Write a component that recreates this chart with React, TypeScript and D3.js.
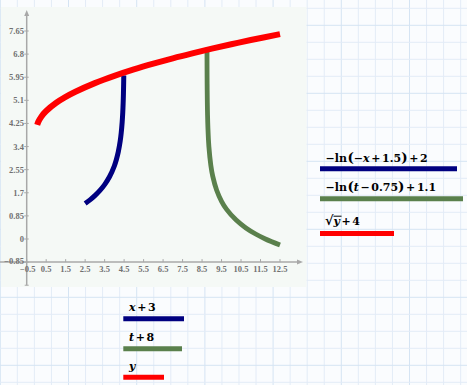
import React from "react";
import * as d3 from "d3";

const xTicks = [-0.5, 0.5, 1.5, 2.5, 3.5, 4.5, 5.5, 6.5, 7.5, 8.5, 9.5, 10.5, 11.5, 12.5];
const xTickLabels = ["\u22120.5", "0.5", "1.5", "2.5", "3.5", "4.5", "5.5", "6.5", "7.5", "8.5", "9.5", "10.5", "11.5", "12.5"];
const yTicks = [-0.85, 0, 0.85, 1.7, 2.55, 3.4, 4.25, 5.1, 5.95, 6.8, 7.65];
const yTickLabels = ["\u22120.85", "0", "0.85", "1.7", "2.55", "3.4", "4.25", "5.1", "5.95", "6.8", "7.65"];

// x+3  vs  -ln(-x+1.5)+2
const blueX = [2.5, 2.75, 3, 3.25, 3.5, 3.75, 4.0, 4.1, 4.2, 4.3, 4.35, 4.4, 4.43, 4.45, 4.465, 4.475, 4.482];
const blueY = [1.307, 1.44, 1.595, 1.777, 2.0, 2.288, 2.693, 2.916, 3.204, 3.609, 3.897, 4.303, 4.659, 4.996, 5.352, 5.689, 6.017];
// t+8  vs  -ln(t-0.75)+1.1
const greenX = [8.753, 8.755, 8.76, 8.77, 8.78, 8.8, 8.85, 8.95, 9.05, 9.25, 9.5, 9.75, 10.25, 10.75, 11.25, 11.75, 12.5];
const greenY = [6.943, 6.398, 5.705, 5.012, 4.607, 4.096, 3.403, 2.709, 2.304, 1.793, 1.388, 1.1, 0.695, 0.407, 0.184, 0.001, -0.222];
// y  vs  sqrt(y)+4
const redX = [0.04, 0.1, 0.25, 0.5, 1, 1.5, 2, 3, 4, 5, 6, 7, 8, 9, 10, 11, 12.5];
const redY = [4.2, 4.316, 4.5, 4.707, 5, 5.225, 5.414, 5.732, 6, 6.236, 6.449, 6.646, 6.828, 7, 7.162, 7.317, 7.536];

const xAxisExtent = [-1.87, 13.68];
const yAxisExtent = [-1.7, 8.42];

const W = 467;
const H = 385;
const BLUE = "#000080";
const GREEN = "#5a804c";
const RED = "#ff0000";
const AXIS = "#a8a8a8";
const LABEL = "#707070";
const MATH = "DejaVu Serif, serif";
const S = 1.6; // operator spacing

export default function App() {
  const x = d3.scaleLinear().domain([-0.5, 12.5]).range([26.7, 280]);
  const y = d3.scaleLinear().domain([0, 7.65]).range([239, 31]);

  const line = d3
    .line<[number, number]>()
    .x((d) => x(d[0]))
    .y((d) => y(d[1]))
    .curve(d3.curveCatmullRom.alpha(0.5));

  const zip = (a: number[], b: number[]) => a.map((v, i) => [v, b[i]] as [number, number]);

  const gridV: number[] = [];
  for (let k = 0; k * 17.05 < W + 1; k++) gridV.push(k);
  const gridH: number[] = [];
  for (let k = 0; -8.7 + k * 17 < H + 1; k++) gridH.push(k);

  const xAxisY = y(-0.85);
  const yAxisX = x(-0.5);
  const xAxisEnd = x(xAxisExtent[1]);
  const yAxisTop = y(yAxisExtent[1]);

  return (
    <svg
      width={W}
      height={H}
      style={{ position: "absolute", left: 0, top: 0, display: "block" }}
    >
      <rect x={0} y={0} width={W} height={H} fill="#fafcfe" />
      {gridV.map((k) => (
        <line
          key={"v" + k}
          x1={0.3 + k * 17.05}
          x2={0.3 + k * 17.05}
          y1={0}
          y2={H}
          stroke={k % 4 === 0 ? "#d5e4f3" : "#e3ecf7"}
          strokeWidth={1}
        />
      ))}
      {gridH.map((k) => (
        <line
          key={"h" + k}
          x1={0}
          x2={W}
          y1={-8.7 + k * 17}
          y2={-8.7 + k * 17}
          stroke={k % 4 === 2 ? "#d5e4f3" : "#e3ecf7"}
          strokeWidth={1}
        />
      ))}
      {/* plot region */}
      <rect x={1} y={7} width={305.5} height={280} fill="#f5f9f6" />

      {/* axes */}
      <line x1={x(xAxisExtent[0])} x2={xAxisEnd - 4} y1={xAxisY} y2={xAxisY} stroke={AXIS} strokeWidth={1.5} />
      <path d={`M${xAxisEnd},${xAxisY} L${xAxisEnd - 6},${xAxisY - 2.5} L${xAxisEnd - 6},${xAxisY + 2.5} Z`} fill={AXIS} />
      <line x1={yAxisX} x2={yAxisX} y1={y(yAxisExtent[0])} y2={yAxisTop + 4} stroke={AXIS} strokeWidth={1.5} />
      <path d={`M${yAxisX},${yAxisTop} L${yAxisX - 2.5},${yAxisTop + 6} L${yAxisX + 2.5},${yAxisTop + 6} Z`} fill={AXIS} />
      <line x1={yAxisX - 2} x2={yAxisX + 2} y1={y(yAxisExtent[0])} y2={y(yAxisExtent[0])} stroke={AXIS} strokeWidth={1} />

      {xTicks.map((t, i) => (
        <g key={"xt" + i}>
          <line x1={x(t)} x2={x(t)} y1={xAxisY - 3} y2={xAxisY} stroke={AXIS} strokeWidth={1} />
          <text
            x={x(t) + (i === 0 ? 1 : 0)}
            y={xAxisY + 9.5}
            textAnchor="middle"
            fontFamily="Liberation Serif, serif"
            fontWeight="bold"
            fontSize={8.5}
            fill={LABEL}
          >
            {xTickLabels[i]}
          </text>
        </g>
      ))}
      {yTicks.map((t, i) => (
        <g key={"yt" + i}>
          <line x1={yAxisX - 2.5} x2={yAxisX + 2} y1={y(t)} y2={y(t)} stroke={AXIS} strokeWidth={1} />
          <text
            x={yAxisX - 2.8}
            y={y(t) + (i === 0 ? 2.2 : 3)}
            textAnchor="end"
            fontFamily="Liberation Serif, serif"
            fontWeight="bold"
            fontSize={8.5}
            fill={LABEL}
          >
            {yTickLabels[i]}
          </text>
        </g>
      ))}

      {/* curves */}
      <path d={line(zip(blueX, blueY)) || ""} fill="none" stroke={BLUE} strokeWidth={5} />
      <path d={line(zip(greenX, greenY)) || ""} fill="none" stroke={GREEN} strokeWidth={4.8} />
      <path d={line(zip(redX, redY)) || ""} fill="none" stroke={RED} strokeWidth={6} />

      {/* right legend */}
      <g fontFamily={MATH} fontWeight="bold" fontSize={11} fill="#000">
        <text x={325.5} y={161.7}>
          <tspan>{"\u2212ln"}</tspan>
          <tspan dx={0.5} fontSize={13.5}>(</tspan>
          <tspan>{"\u2212"}</tspan>
          <tspan fontStyle="italic">x</tspan>
          <tspan dx={S}>+</tspan>
          <tspan dx={S}>1.5</tspan>
          <tspan fontSize={13.5}>)</tspan>
          <tspan dx={S}>+</tspan>
          <tspan dx={S}>2</tspan>
        </text>
        <text x={325.5} y={190.7}>
          <tspan>{"\u2212ln"}</tspan>
          <tspan dx={0.5} fontSize={13.5}>(</tspan>
          <tspan fontStyle="italic">t</tspan>
          <tspan dx={S}>{"\u2212"}</tspan>
          <tspan dx={S}>0.75</tspan>
          <tspan fontSize={13.5}>)</tspan>
          <tspan dx={S}>+</tspan>
          <tspan dx={S}>1.1</tspan>
        </text>
        <text x={325} y={225}>
          <tspan fontSize={13}>{"\u221A"}</tspan>
          <tspan fontStyle="italic">y</tspan>
          <tspan dx={S}>+</tspan>
          <tspan dx={S}>4</tspan>
        </text>
        <line x1={333.5} x2={341.5} y1={216.2} y2={216.2} stroke="#000" strokeWidth={1} />
      </g>
      <line x1={320} x2={457} y1={168.7} y2={168.7} stroke={BLUE} strokeWidth={5} />
      <line x1={320} x2={463} y1={198.8} y2={198.8} stroke={GREEN} strokeWidth={5} />
      <line x1={320} x2={394} y1={233.4} y2={233.4} stroke={RED} strokeWidth={5} />

      {/* bottom legend */}
      <g fontFamily={MATH} fontWeight="bold" fontSize={11} fill="#000">
        <text x={129} y={310.7}>
          <tspan fontStyle="italic">x</tspan>
          <tspan dx={S}>+</tspan>
          <tspan dx={S}>3</tspan>
        </text>
        <text x={129} y={340.5}>
          <tspan fontStyle="italic">t</tspan>
          <tspan dx={S}>+</tspan>
          <tspan dx={S}>8</tspan>
        </text>
        <text x={129} y={370}>
          <tspan fontStyle="italic">y</tspan>
        </text>
      </g>
      <line x1={123.3} x2={184} y1={318.7} y2={318.7} stroke={BLUE} strokeWidth={5} />
      <line x1={123.3} x2={182} y1={348.7} y2={348.7} stroke={GREEN} strokeWidth={5} />
      <line x1={123.3} x2={164} y1={377.3} y2={377.3} stroke={RED} strokeWidth={5} />
    </svg>
  );
}
